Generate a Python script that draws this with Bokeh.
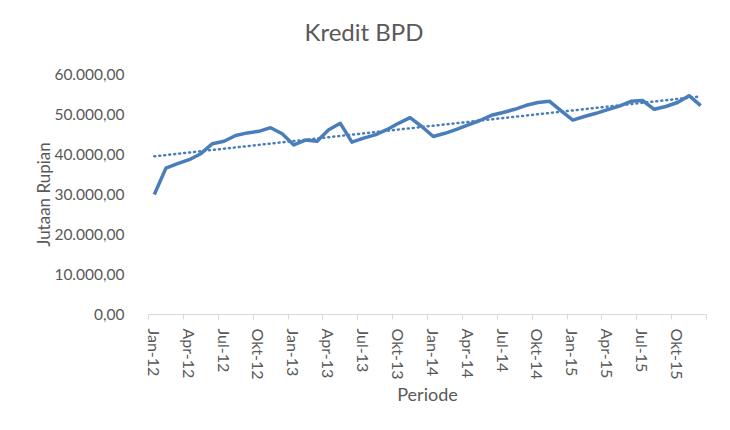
import numpy as np
from bokeh.plotting import figure
from bokeh.models import FixedTicker, Range1d, LinearAxis
from bokeh.embed import file_html
from bokeh.resources import INLINE

categories = [f"{m}-{y}" for y in ["12", "13", "14", "15"]
              for m in ["Jan", "Feb", "Mar", "Apr", "Mei", "Jun",
                        "Jul", "Agu", "Sep", "Okt", "Nov", "Des"]]

kredit = [30000, 36600, 37700, 38700, 40200, 42700, 43300, 44750, 45400, 45800, 46700, 45200,
          42400, 43600, 43300, 46200, 47800, 43100, 44100, 44900, 46200, 47800, 49200, 47000,
          44500, 45300, 46300, 47400, 48500, 49800, 50500, 51300, 52300, 53000, 53300, 50900,
          48600, 49500, 50300, 51200, 52100, 53300, 53500, 51300, 52000, 53000, 54700, 52200]

x_tick_labels = ["Jan-12", "Apr-12", "Jul-12", "Okt-12", "Jan-13", "Apr-13", "Jul-13", "Okt-13",
                 "Jan-14", "Apr-14", "Jul-14", "Okt-14", "Jan-15", "Apr-15", "Jul-15", "Okt-15"]
y_ticks = [0, 10000, 20000, 30000, 40000, 50000, 60000]
y_tick_labels = ["0,00", "10.000,00", "20.000,00", "30.000,00", "40.000,00", "50.000,00", "60.000,00"]

FONT = "Lato"
TXT = "#595959"
BLUE = "#4a7ebb"

n = len(kredit)
xs = list(range(n))
slope, intercept = np.polyfit(xs, kredit, 1)
trend = [intercept + slope * i for i in xs]

p = figure(width=714, height=414, output_backend="svg", toolbar_location=None,
           x_range=Range1d(-0.5, n - 0.5), y_range=Range1d(0, 60000),
           min_border_left=148, min_border_right=8, min_border_top=74, min_border_bottom=100)

p.line(xs, trend, line_color=BLUE, line_width=2.5, line_dash="1 4", line_cap="round")
p.line(xs, kredit, line_color=BLUE, line_width=3.5, line_join="round")

p.title.text = "Kredit BPD"
p.title.text_font = FONT
p.title.text_font_size = "24px"
p.title.text_font_style = "normal"
p.title.text_color = TXT
p.title.align = "left"
p.title.offset = 156
p.title.standoff = 0

# invisible spacer axis between the title and the plot area
spacer = LinearAxis(ticker=FixedTicker(ticks=[0]), axis_line_color=None,
                    major_tick_line_color=None, minor_tick_line_color=None,
                    major_tick_out=29, minor_tick_out=0, major_tick_in=0, minor_tick_in=0,
                    major_label_standoff=0, major_label_text_font_size="1px",
                    major_label_text_color=None, major_label_overrides={0: ""})
p.add_layout(spacer, "above")

p.xgrid.visible = False
p.ygrid.visible = False
p.outline_line_color = None

label_pos = [i for i in range(0, n, 3)]
xa = p.below[0]
xa.ticker = FixedTicker(ticks=label_pos, minor_ticks=[i - 0.5 for i in range(0, n + 1, 3)])
xa.major_label_overrides = {pos: lab for pos, lab in zip(label_pos, x_tick_labels)}
xa.major_tick_line_color = None
xa.major_tick_out = 0
xa.major_tick_in = 0
xa.minor_tick_out = 5
xa.minor_tick_in = 0
xa.minor_tick_line_color = "#d9d9d9"
xa.axis_line_color = "#d9d9d9"
xa.major_label_orientation = "vertical"
xa.major_label_standoff = 9
xa.major_label_text_font = FONT
xa.major_label_text_font_size = "16px"
xa.major_label_text_color = TXT
xa.axis_label = "Periode"
xa.axis_label_text_font = FONT
xa.axis_label_text_font_size = "18px"
xa.axis_label_text_font_style = "normal"
xa.axis_label_text_color = TXT
xa.axis_label_standoff = 0

p.yaxis.ticker = FixedTicker(ticks=y_ticks)
p.yaxis.major_label_overrides = {t: lab for t, lab in zip(y_ticks, y_tick_labels)}
p.yaxis.axis_line_color = None
p.yaxis.major_tick_line_color = None
p.yaxis.minor_tick_line_color = None
p.yaxis.major_label_standoff = 18
p.yaxis.major_label_text_font = FONT
p.yaxis.major_label_text_font_size = "15.5px"
p.yaxis.major_label_text_color = TXT
p.yaxis.axis_label = "Jutaan Rupian"
p.yaxis.axis_label_text_font = FONT
p.yaxis.axis_label_text_font_size = "17px"
p.yaxis.axis_label_text_font_style = "normal"
p.yaxis.axis_label_text_color = TXT
p.yaxis.axis_label_standoff = -3

open("out.html", "w").write(file_html(p, INLINE))
